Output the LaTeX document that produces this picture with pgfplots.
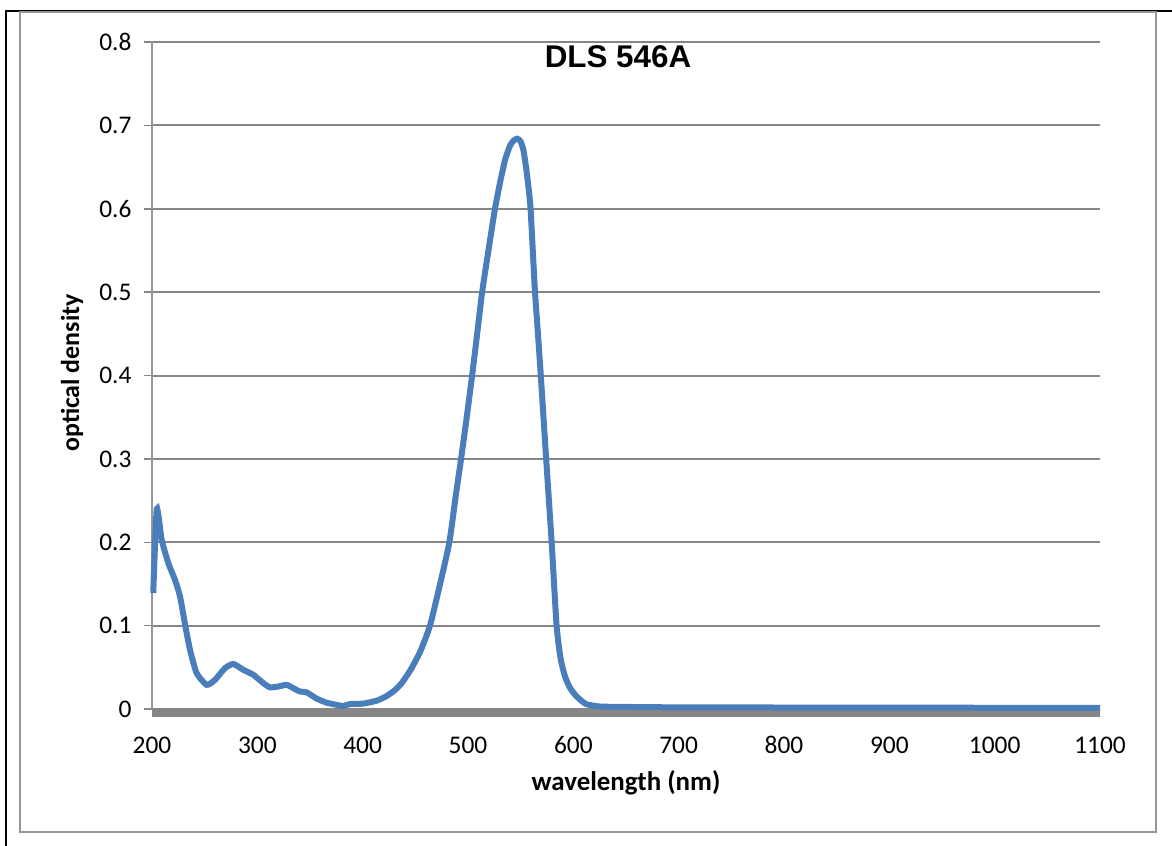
\documentclass[border=0pt]{standalone}
\usepackage{fontspec}
\setmainfont{Carlito}
\newfontfamily\arialfont{Liberation Sans}
\usepackage{pgfplots}
\pgfplotsset{compat=1.18}
\definecolor{xlblue}{RGB}{74,126,187}
\definecolor{xlgrid}{RGB}{134,134,134}
\definecolor{xlframe}{RGB}{150,150,150}

\begin{document}
\begin{tikzpicture}[x=1bp,y=1bp]
  \path[use as bounding box] (0,0) rectangle (1172,-846);
  % page cell border and chart frame
  \draw[black, line width=2bp] (6,-846) -- (6,-11) -- (1172,-11);
  \draw[xlframe, line width=1.5bp] (20,-12) rectangle (1156,-832);

  \begin{axis}[
    at={(152bp,-709bp)}, anchor=south west,
    scale only axis, width=948bp, height=667bp,
    xmin=200, xmax=1100, ymin=0, ymax=0.8,
    clip=false,
    axis line style={draw=none},
    xtick={200,300,...,1100},
    ytick={0,0.1,...,0.8},
    tick pos=left,
    xtick style={draw=none},
    ytick style={xlgrid, line width=1.5bp},
    tick align=outside,
    major tick length=8bp,
    ymajorgrids,
    major grid style={xlgrid, line width=2bp},
    tick label style={font=\fontsize{25.5}{30}\selectfont},
    xticklabel style={yshift=-16bp},
    yticklabel style={xshift=-9bp},
    /pgf/number format/assume math mode=true,
    /pgf/number format/set thousands separator={},
    yticklabel={\pgfmathprintnumber[fixed,precision=1]{\tick}},
  ]
    \draw[xlframe, line width=1.5bp] (rel axis cs:0,0) -- (rel axis cs:0,1);
    \draw[xlgrid, line width=8bp] ([yshift=-3.5bp]axis cs:200,0) -- ([yshift=-3.5bp]axis cs:1100,0);
    \addplot[xlblue, line width=6bp, smooth, tension=0.35] coordinates {
      (201.2,0.139) (204.5,0.240) (209.2,0.203) (215.5,0.175) (221.8,0.155)
      (226.6,0.135) (231.3,0.102) (236.1,0.071) (242.4,0.043) (251.9,0.029)
      (259.8,0.035) (269.3,0.049) (277.2,0.054) (286.7,0.047) (296.2,0.041)
      (305.7,0.031) (312.0,0.026) (319.9,0.027) (327.9,0.029) (334.1,0.025)
      (340.5,0.021) (346.8,0.020) (356.3,0.0125) (365.8,0.0076) (375.3,0.005)
      (381.6,0.0036) (388.0,0.006) (400.6,0.0065) (413.3,0.010) (422.0,0.015)
      (430.0,0.022) (437.0,0.031) (446.0,0.048) (455.0,0.070) (463.9,0.100) (473.5,0.150)
      (482.3,0.200) (488.5,0.257) (493.4,0.300) (498.8,0.350) (503.9,0.400)
      (508.7,0.450) (513.4,0.500) (519.4,0.550) (525.6,0.600) (531.0,0.635)
      (535.5,0.660) (540.0,0.676) (543.5,0.682) (546.8,0.684) (549.8,0.681)
      (552.5,0.671) (555.1,0.650) (557.5,0.625) (559.4,0.600)
      (561.5,0.550) (563.6,0.500) (566.4,0.450) (569.1,0.400) (574.2,0.300)
      (579.4,0.200) (584.1,0.100) (588.0,0.060) (592.1,0.039) (597.0,0.025)
      (603.2,0.015) (612.0,0.006) (625.3,0.003) (650,0.0025) (700,0.002)
      (800,0.0018) (900,0.0016) (1000,0.0015) (1100,0.0014)
    };
  \end{axis}

  \node[font=\arialfont\bfseries\fontsize{31.5}{37}\selectfont] at (618,-57) {DLS 546A};
  \node[rotate=90, font=\bfseries\fontsize{26}{31}\selectfont] at (72,-373) {optical density};
  \node[font=\bfseries\fontsize{27}{32}\selectfont] at (626,-783) {wavelength (nm)};
\end{tikzpicture}
\end{document}
